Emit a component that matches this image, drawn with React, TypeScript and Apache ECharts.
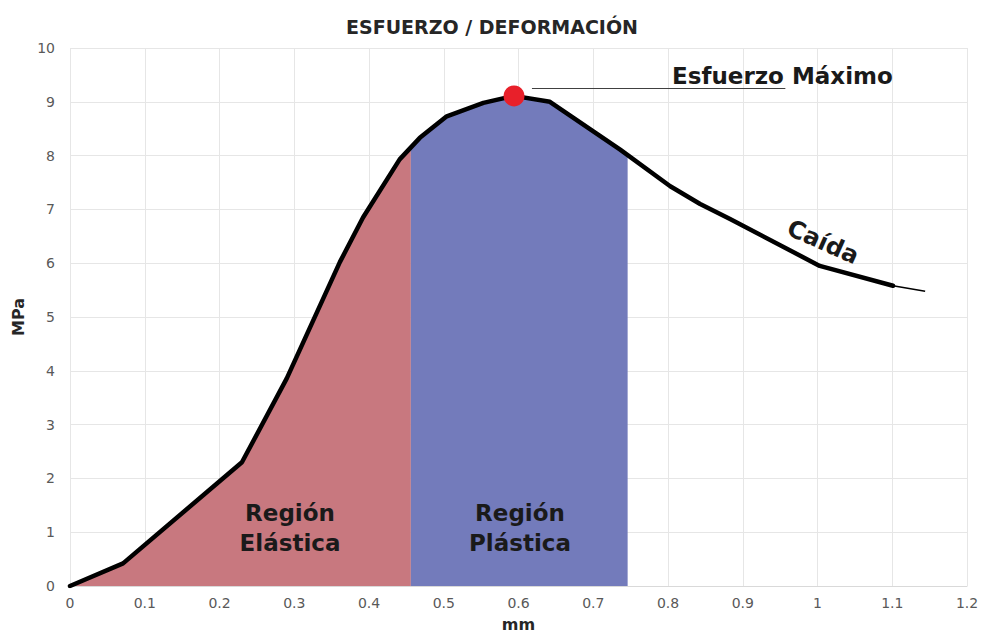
import React, { useEffect, useRef } from "react";
import * as echarts from "echarts";

const TITLE = "ESFUERZO / DEFORMACIÓN";
const X_NAME = "mm";
const Y_NAME = "MPa";

// strain (mm) and stress (MPa)
const STRAIN = [0, 0.071, 0.23, 0.29, 0.361, 0.392, 0.441, 0.468, 0.504, 0.553, 0.594, 0.642, 0.736, 0.803, 0.843, 0.883, 1.003, 1.101];
const STRESS = [0, 0.42, 2.3, 3.86, 6.02, 6.85, 7.93, 8.33, 8.73, 8.98, 9.11, 9.0, 8.11, 7.43, 7.1, 6.82, 5.95, 5.58];
const TAIL_STRAIN = [1.101, 1.144];
const TAIL_STRESS = [5.58, 5.48];

const ELASTIC_LIMIT = 0.456;
const PLASTIC_LIMIT = 0.746;

const PEAK = [0.594, 9.11];
const ANNOT_LINE_X = [0.618, 0.957];
const ANNOT_LINE_Y = 9.26;

const FONT = "'DejaVu Sans', 'Noto Sans', sans-serif";

function valueAt(x: number): number {
  for (let i = 0; i < STRAIN.length - 1; i++) {
    if (x >= STRAIN[i] && x <= STRAIN[i + 1]) {
      const t = (x - STRAIN[i]) / (STRAIN[i + 1] - STRAIN[i]);
      return STRESS[i] + t * (STRESS[i + 1] - STRESS[i]);
    }
  }
  return 0;
}

function segment(a: number, b: number): number[][] {
  const pts: number[][] = [[a, valueAt(a)]];
  STRAIN.forEach((x, i) => {
    if (x > a && x < b) pts.push([x, STRESS[i]]);
  });
  pts.push([b, valueAt(b)]);
  return pts;
}

export default function App() {
  const ref = useRef<HTMLDivElement>(null);
  useEffect(() => {
    document.body.style.margin = "0";
    const chart = echarts.init(ref.current!, null, { renderer: "svg" });
    const curve = STRAIN.map((x, i) => [x, STRESS[i]]);
    const tail = TAIL_STRAIN.map((x, i) => [x, TAIL_STRESS[i]]);
    chart.setOption({
      animation: false,
      backgroundColor: "#ffffff",
      title: {
        text: TITLE,
        left: "center",
        top: 12,
        textStyle: { fontFamily: FONT, fontSize: 19, fontWeight: "bold", color: "#262626" },
      },
      grid: { left: 70, right: 17, top: 48, bottom: 48.5 },
      xAxis: {
        type: "value",
        min: 0,
        max: 1.2,
        interval: 0.1,
        name: X_NAME,
        nameLocation: "middle",
        nameGap: 30,
        nameTextStyle: { fontFamily: FONT, fontSize: 16, fontWeight: "bold", color: "#262626" },
        axisLine: { show: true, lineStyle: { color: "#d9d9d9" } },
        axisTick: { show: false },
        axisLabel: {
          fontFamily: FONT,
          fontSize: 14,
          color: "#595959",
          margin: 10,
          formatter: (v: number) => String(Math.round(v * 10) / 10),
        },
        splitLine: { show: true, lineStyle: { color: "#e6e6e6" } },
      },
      yAxis: {
        type: "value",
        min: 0,
        max: 10,
        interval: 1,
        name: Y_NAME,
        nameLocation: "middle",
        nameGap: 37,
        nameTextStyle: { fontFamily: FONT, fontSize: 16, fontWeight: "bold", color: "#262626" },
        axisLine: { show: false },
        axisTick: { show: false },
        axisLabel: { fontFamily: FONT, fontSize: 14, color: "#595959", margin: 15 },
        splitLine: { show: true, lineStyle: { color: "#e6e6e6" } },
      },
      series: [
        {
          type: "line",
          data: segment(0, ELASTIC_LIMIT),
          symbol: "none",
          lineStyle: { width: 0 },
          areaStyle: { color: "#c8787f", opacity: 1 },
          z: 1,
        },
        {
          type: "line",
          data: segment(ELASTIC_LIMIT, PLASTIC_LIMIT),
          symbol: "none",
          lineStyle: { width: 0 },
          areaStyle: { color: "#737bbb", opacity: 1 },
          z: 1,
        },
        {
          type: "line",
          data: curve,
          symbol: "none",
          lineStyle: { color: "#000000", width: 4.5, join: "round", cap: "round" },
          z: 3,
        },
        {
          type: "line",
          data: tail,
          symbol: "none",
          lineStyle: { color: "#000000", width: 1.5 },
          z: 3,
        },
        {
          type: "scatter",
          data: [PEAK],
          symbolSize: 21,
          itemStyle: { color: "#e8202a", opacity: 1 },
          z: 5,
          markLine: {
            silent: true,
            symbol: "none",
            label: { show: false },
            lineStyle: { color: "#404040", width: 1.2, type: "solid" },
            data: [[{ coord: [ANNOT_LINE_X[0], ANNOT_LINE_Y] }, { coord: [ANNOT_LINE_X[1], ANNOT_LINE_Y] }]],
          },
        },
      ],
      graphic: [
        {
          type: "text",
          x: 672,
          y: 76,
          style: {
            text: "Esfuerzo Máximo",
            font: `bold 23px ${FONT}`,
            fill: "#1a1a1a",
            align: "left",
            verticalAlign: "middle",
          },
          z: 10,
        },
        {
          type: "text",
          x: 290,
          y: 528,
          style: {
            text: "Región\nElástica",
            font: `bold 23px ${FONT}`,
            fill: "#1a1a1a",
            align: "center",
            verticalAlign: "middle",
            lineHeight: 30,
          },
          z: 10,
        },
        {
          type: "text",
          x: 520,
          y: 528,
          style: {
            text: "Región\nPlástica",
            font: `bold 23px ${FONT}`,
            fill: "#1a1a1a",
            align: "center",
            verticalAlign: "middle",
            lineHeight: 30,
          },
          z: 10,
        },
        {
          type: "text",
          x: 823,
          y: 242,
          rotation: -0.42,
          style: {
            text: "Caída",
            font: `bold 24px ${FONT}`,
            fill: "#1a1a1a",
            align: "center",
            verticalAlign: "middle",
          },
          z: 10,
        },
      ],
    });
    return () => chart.dispose();
  }, []);
  return <div ref={ref} style={{ width: 984, height: 637 }} />;
}
